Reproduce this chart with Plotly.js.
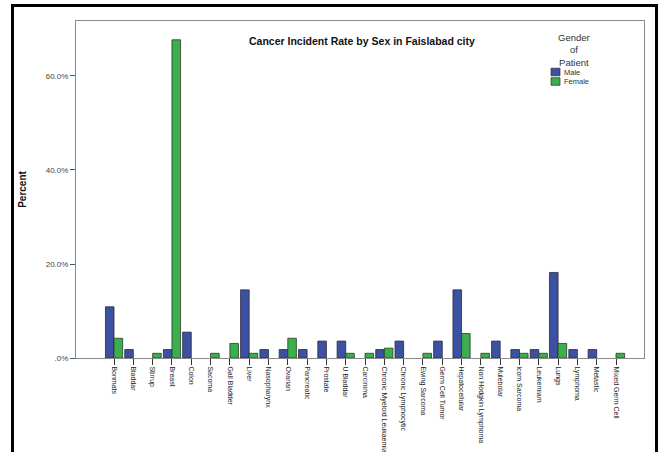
<!DOCTYPE html>
<html>
<head>
<meta charset="utf-8">
<script src="https://cdn.plot.ly/plotly-3.0.1.min.js"></script>
<style>
  html, body { margin: 0; padding: 0; background: #fff; width: 664px; height: 452px; overflow: hidden; }
  #frame { position: absolute; left: 11px; top: 4px; width: 647px; height: 470px; border: 3px solid #000; box-sizing: border-box; pointer-events: none; z-index: 5; }
  #chart { position: absolute; left: 0; top: 0; width: 664px; height: 452px; }
</style>
</head>
<body>
<div id="chart"></div>
<div id="frame"></div>
<script>
const categories = ["Bonmats", "Bladdar", "Stirrup", "Breast", "Colon", "Sacoma", "Gall Bladder", "Liver",
  "Nasopharynx", "Ovarian", "Pancreatic", "Prostate", "U Bladdar", "Carcinima", "Chronic Myeloid Leukaemia",
  "Chronic Lymphocytic", "Ewing Sarcoma", "Germ Cell Tumor", "Hepatocellular", "Non Hodgkin Lymphoma",
  "Mulebolar", "lcom Sarcoma", "Leukemiam", "Lungs", "Lymphoma", "Metastic", "Mixed Germ Cell"];

const malePct = [10.9, 1.8, null, 1.8, 5.5, null, null, 14.5,
  1.8, 1.8, 1.8, 3.6, 3.6, null, 1.8,
  3.6, null, 3.6, 14.5, null,
  3.6, 1.8, 1.8, 18.2, 1.8, 1.8, null];

const femalePct = [4.2, null, 1.0, 67.7, null, 1.0, 3.1, 1.0,
  null, 4.2, null, null, 1.0, 1.0, 2.1,
  null, 1.0, null, 5.2, 1.0,
  null, 1.0, 1.0, 3.1, null, null, 1.0];

const seriesNames = ["Male", "Female"];
const seriesColors = ["#3d51a3", "#3dae4c"];

const yTickVals = [0, 20, 40, 60];
const yTickText = [".0%", "20.0%", "40.0%", "60.0%"];

const font = "Liberation Sans, Arial, sans-serif";

const traces = [
  { type: "bar", name: seriesNames[0], x: categories, y: malePct,
    marker: { color: seriesColors[0], line: { color: "#2a2a3a", width: 0.8 } } },
  { type: "bar", name: seriesNames[1], x: categories, y: femalePct,
    marker: { color: seriesColors[1], line: { color: "#2a3a2a", width: 0.8 } } }
];

// legend drawn with paper-pixel helpers
const W = 664, H = 452, ML = 76, MR = 20, MT = 21, MB = 94;
const px = v => (v - ML) / (W - ML - MR);
const py = v => 1 - (v - MT) / (H - MT - MB);

const shapes = [];
const annotations = [
  { text: "<b>Cancer Incident Rate by Sex in Faislabad city</b>", xref: "paper", yref: "paper",
    x: px(362), y: py(41), xanchor: "center", yanchor: "middle", showarrow: false,
    font: { family: font, size: 10.5, color: "#111" } },
  { text: "Gender<br>of<br>Patient", xref: "paper", yref: "paper",
    x: px(574), y: py(50), xanchor: "center", yanchor: "middle", align: "center", showarrow: false,
    font: { family: font, size: 9.5, color: "#333" } }
];
seriesNames.forEach((n, i) => {
  const cy = 72 + i * 9.5;
  shapes.push({ type: "rect", xref: "paper", yref: "paper",
    x0: px(551), x1: px(560), y0: py(cy - 3.8), y1: py(cy + 3.8),
    fillcolor: seriesColors[i], line: { color: "#333", width: 0.7 } });
  annotations.push({ text: n, xref: "paper", yref: "paper", x: px(561.5), y: py(cy),
    xanchor: "left", yanchor: "middle", showarrow: false,
    font: { family: font, size: 7.5, color: "#333" } });
});

const layout = {
  width: W, height: H,
  margin: { l: ML, r: MR, t: MT, b: MB, pad: 0 },
  paper_bgcolor: "#fff", plot_bgcolor: "#fff",
  barmode: "group", bargap: 0.11, bargroupgap: 0,
  font: { family: font, size: 8, color: "#222" },
  showlegend: false,
  xaxis: {
    type: "category", range: [-1.97, 27.45],
    tickangle: 90, tickfont: { family: font, size: 7, color: "#222" },
    ticks: "outside", ticklen: 6, tickcolor: "#333", tickwidth: 1,
    showline: true, linecolor: "#8a8a8a", linewidth: 1, mirror: true,
    showgrid: false, zeroline: false, automargin: false
  },
  yaxis: {
    range: [0, 71.7],
    tickvals: yTickVals, ticktext: yTickText,
    tickfont: { family: font, size: 8, color: "#444" },
    ticks: "outside", ticklen: 5, tickcolor: "#555", tickwidth: 1,
    showline: true, linecolor: "#8a8a8a", linewidth: 1, mirror: true,
    showgrid: false, zeroline: false, automargin: false,
    title: { text: "<b>Percent</b>", font: { family: font, size: 10, color: "#111" }, standoff: 17 }
  },
  shapes: shapes,
  annotations: annotations
};

Plotly.newPlot("chart", traces, layout, { staticPlot: true, displayModeBar: false });
</script>
</body>
</html>
